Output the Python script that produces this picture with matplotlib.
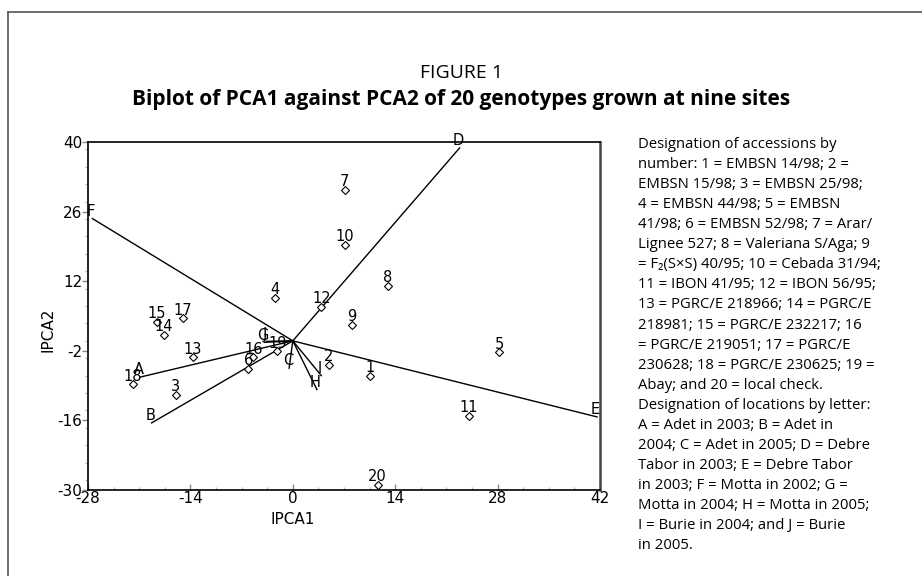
import matplotlib
matplotlib.use("Agg")
import matplotlib.pyplot as plt
from matplotlib.lines import Line2D
from matplotlib.ticker import MultipleLocator

plt.rcParams['font.family'] = ['DejaVu Sans']
plt.rcParams['axes.unicode_minus'] = False

# genotypes (points)
geno_ids = ['1', '2', '3', '4', '5', '6', '7', '8', '9', '10',
            '11', '12', '13', '14', '15', '16', '17', '18', '19', '20']
geno_x = [10.6, 4.9, -16.0, -2.5, 28.2, -6.1, 7.1, 13.0, 8.1, 7.1,
          24.1, 3.9, -13.7, -17.6, -18.6, -5.4, -15.0, -21.9, -2.1, 11.6]
geno_y = [-7.0, -4.8, -10.8, 8.7, -2.3, -5.6, 30.4, 11.1, 3.2, 19.3,
          -15.1, 6.9, -3.3, 1.2, 3.8, -3.3, 4.6, -8.7, -2.1, -28.9]

# sites (vectors from the origin)
site_ids = ['A', 'B', 'C', 'D', 'E', 'F', 'G', 'H', 'I', 'J']
site_x = [-20.9, -19.3, -0.5, 22.8, 41.6, -27.4, -3.9, 3.3, 3.9, -3.6]
site_y = [-7.3, -16.5, -5.5, 38.8, -15.3, 24.6, -0.3, -9.8, -7.0, -0.1]

x_ticks = [-28, -14, 0, 14, 28, 42]
y_ticks = [-30, -16, -2, 12, 26, 40]

legend_text = (
    "Designation of accessions by\n"
    "number: 1 = EMBSN 14/98; 2 =\n"
    "EMBSN 15/98; 3 = EMBSN 25/98;\n"
    "4 = EMBSN 44/98; 5 = EMBSN\n"
    "41/98; 6 = EMBSN 52/98; 7 = Arar/\n"
    "Lignee 527; 8 = Valeriana S/Aga; 9\n"
    "= F\u2082(S\u00d7S) 40/95; 10 = Cebada 31/94;\n"
    "11 = IBON 41/95; 12 = IBON 56/95;\n"
    "13 = PGRC/E 218966; 14 = PGRC/E\n"
    "218981; 15 = PGRC/E 232217; 16\n"
    "= PGRC/E 219051; 17 = PGRC/E\n"
    "230628; 18 = PGRC/E 230625; 19 =\n"
    "Abay; and 20 = local check.\n"
    "Designation of locations by letter:\n"
    "A = Adet in 2003; B = Adet in\n"
    "2004; C = Adet in 2005; D = Debre\n"
    "Tabor in 2003; E = Debre Tabor\n"
    "in 2003; F = Motta in 2002; G =\n"
    "Motta in 2004; H = Motta in 2005;\n"
    "I = Burie in 2004; and J = Burie\n"
    "in 2005."
)

fig = plt.figure(figsize=(9.22, 5.76), dpi=100)
ax = fig.add_axes([88 / 922, 1 - 490 / 576, 512 / 922, 348 / 576])

# vectors
for sx, sy, s in zip(site_x, site_y, site_ids):
    ax.plot([0, sx], [0, sy], color='black', lw=1.0)
    ax.annotate(s, (sx, sy), xytext=(-1, 2), textcoords='offset points',
                ha='center', va='baseline', fontsize=10.5)

# genotypes
ax.plot(geno_x, geno_y, linestyle='none', marker='D', ms=3.6,
        mfc='white', mec='black', mew=0.8)
for gx, gy, g in zip(geno_x, geno_y, geno_ids):
    ax.annotate(g, (gx, gy), xytext=(0, 2.5), textcoords='offset points',
                ha='center', va='baseline', fontsize=10.5)

ax.set_xlim(-28, 42)
ax.set_ylim(-30, 40)
ax.set_xticks(x_ticks)
ax.set_yticks(y_ticks)
ax.xaxis.set_minor_locator(MultipleLocator(3.5))
ax.yaxis.set_minor_locator(MultipleLocator(3.5))
ax.tick_params(which='major', length=4, width=1, color='#888888',
               labelsize=11, pad=0)
ax.tick_params(which='minor', length=2, width=1, color='#bbbbbb')
ax.tick_params(axis='y', which='both', direction='out')
ax.tick_params(axis='x', which='both', direction='in', pad=1)
for side in ['left', 'top', 'bottom']:
    ax.spines[side].set_linewidth(1.2)
ax.spines['right'].set_linewidth(1.8)
ax.spines['right'].set_color('#444444')

ax.text(0, -0.085, 'IPCA1', transform=ax.get_xaxis_transform(),
        ha='center', va='center', fontsize=11)
fig.text(48 / 922, 1 - 330 / 576, 'IPCA2', rotation=90,
         ha='center', va='center', fontsize=11)

# titles
fig.text(0.5, 1 - 73 / 576, 'FIGURE 1', ha='center', va='center',
         fontsize=14, family=['Open Sans', 'DejaVu Sans'])
fig.text(0.5, 1 - 100 / 576,
         'Biplot of PCA1 against PCA2 of 20 genotypes grown at nine sites',
         ha='center', va='center', fontsize=15, fontweight='bold',
         family=['Open Sans', 'DejaVu Sans'])

fig.text(638 / 922, 1 - 137 / 576, legend_text, ha='left', va='top',
         fontsize=10.7, linespacing=1.46, family=['Open Sans', 'DejaVu Sans'])

# page frame
fig.add_artist(Line2D([8 / 922, 8 / 922], [0, 1 - 12 / 576],
                      color='#555555', lw=1.2))
fig.add_artist(Line2D([8 / 922, 1], [1 - 12 / 576, 1 - 12 / 576],
                      color='#555555', lw=1.2))

fig.savefig('out.png', dpi=100)
